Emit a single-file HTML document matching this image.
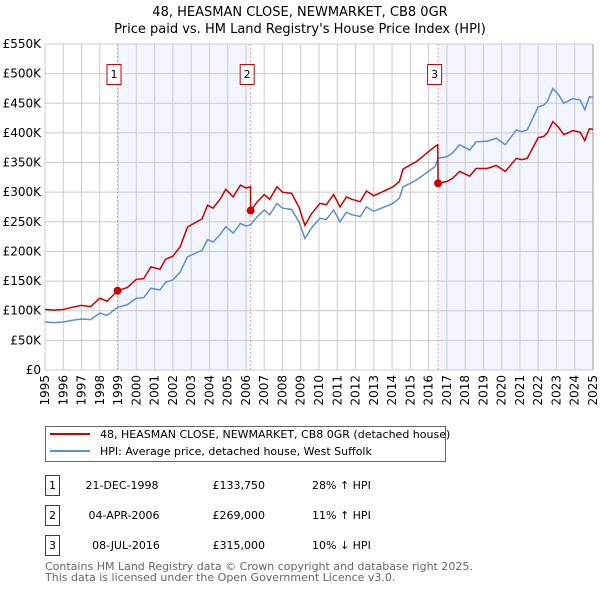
<!DOCTYPE html>
<html><head><meta charset="utf-8"><style>
body{margin:0;background:#fff;width:600px;height:590px;overflow:hidden}
svg text{font-family:"DejaVu Sans","Liberation Sans",sans-serif}
</style></head><body>
<svg id="chart" width="600" height="590" xmlns="http://www.w3.org/2000/svg">
<text x="300" y="16" text-anchor="middle" font-size="13">48, HEASMAN CLOSE, NEWMARKET, CB8 0GR</text>
<text x="300" y="33" text-anchor="middle" font-size="13">Price paid vs. HM Land Registry's House Price Index (HPI)</text>
<g id="plot"></g>
<g>
<rect x="45.5" y="426.5" width="400" height="35" fill="#fff" stroke="#666"/>
<line x1="50" y1="434" x2="90" y2="434" stroke="#cc0000" stroke-width="2"/>
<text x="100" y="438" font-size="11">48, HEASMAN CLOSE, NEWMARKET, CB8 0GR (detached house)</text>
<line x1="50" y1="451" x2="90" y2="451" stroke="#5b8fd4" stroke-width="2"/>
<text x="100" y="455" font-size="11">HPI: Average price, detached house, West Suffolk</text>
</g>
<g font-size="11">
<rect x="45.5" y="475.5" width="14" height="20" fill="#fff" stroke="#cc0000"/><text x="52.5" y="489" text-anchor="middle">1</text>
<text x="122" y="489" text-anchor="middle">21-DEC-1998</text><text x="265" y="489" text-anchor="end">£133,750</text><text x="312" y="489">28% ↑ HPI</text>
<rect x="45.5" y="505.5" width="14" height="20" fill="#fff" stroke="#cc0000"/><text x="52.5" y="519" text-anchor="middle">2</text>
<text x="124" y="519" text-anchor="middle">04-APR-2006</text><text x="265" y="519" text-anchor="end">£269,000</text><text x="312" y="519">11% ↑ HPI</text>
<rect x="45.5" y="535.5" width="14" height="20" fill="#fff" stroke="#cc0000"/><text x="52.5" y="549" text-anchor="middle">3</text>
<text x="126" y="549" text-anchor="middle">08-JUL-2016</text><text x="265" y="549" text-anchor="end">£315,000</text><text x="312" y="549">10% ↓ HPI</text>
</g>
<text x="45" y="570" font-size="11" fill="#666">Contains HM Land Registry data © Crown copyright and database right 2025.</text>
<text x="45" y="581" font-size="11" fill="#666">This data is licensed under the Open Government Licence v3.0.</text>
</svg>
<script>
const hpiDates=[1995.0,1995.5,1996.0,1996.5,1997.0,1997.5,1998.0,1998.4,1998.97,1999.5,2000.0,2000.4,2000.8,2001.3,2001.6,2002.0,2002.4,2002.8,2003.3,2003.6,2003.9,2004.2,2004.6,2004.9,2005.3,2005.7,2006.0,2006.26,2006.6,2007.0,2007.3,2007.7,2008.0,2008.5,2008.9,2009.23,2009.6,2010.05,2010.4,2010.8,2011.15,2011.5,2011.8,2012.25,2012.6,2013.0,2013.5,2014.05,2014.4,2014.6,2015.0,2015.35,2015.9,2016.35,2016.52,2017.0,2017.3,2017.7,2018.25,2018.6,2019.2,2019.7,2020.2,2020.8,2021.1,2021.4,2022.0,2022.3,2022.5,2022.8,2023.1,2023.4,2023.9,2024.3,2024.55,2024.8,2025.0];
const hpiValues=[81,80,81,84,86,85,96,92,106,110,121,122,138,135,148,152,165,191,198,202,220,216,229,242,231,247,243,245,258,270,262,281,273,271,250,222,240,256,254,270,250,266,262,259,275,268,274,281,290,309,315,321,333,343,357,360,366,380,371,385,386,391,380,405,402,405,444,447,453,475,465,450,458,455,439,461,460];
const priceDates=[1995.0,1995.5,1996.0,1996.5,1997.0,1997.5,1998.0,1998.4,1998.97,1999.5,2000.0,2000.4,2000.8,2001.3,2001.6,2002.0,2002.4,2002.8,2003.3,2003.6,2003.9,2004.2,2004.6,2004.9,2005.3,2005.7,2006.0,2006.25,2006.26,2006.6,2007.0,2007.3,2007.7,2008.0,2008.5,2008.9,2009.23,2009.6,2010.05,2010.4,2010.8,2011.15,2011.5,2011.8,2012.25,2012.6,2013.0,2013.5,2014.05,2014.4,2014.6,2015.0,2015.35,2015.9,2016.35,2016.5,2016.52,2017.0,2017.3,2017.7,2018.25,2018.6,2019.2,2019.7,2020.2,2020.8,2021.1,2021.4,2022.0,2022.3,2022.5,2022.8,2023.1,2023.4,2023.9,2024.3,2024.55,2024.8,2025.0];
const priceValues=[102,101,102,106,109,107,121,116,133.75,139,153,154,174,170,187,192,208,241,250,255,278,273,289,305,292,312,307,309,269,283,296,288,309,300,298,275,244,264,281,279,296,275,292,288,284,302,294,301,309,318,339,346,352,366,377,380,315,318,323,335,327,340,340,345,335,357,355,357,392,394,400,419,410,397,404,401,387,407,406];
const saleDates=[1998.97,2006.26,2016.52];
const saleValues=[133.75,269,315];
const saleLabels=["1","2","3"];
const yTicks=[0,50,100,150,200,250,300,350,400,450,500,550];
const yTickLabels=["£0","£50K","£100K","£150K","£200K","£250K","£300K","£350K","£400K","£450K","£500K","£550K"];
const xYears=[1995,1996,1997,1998,1999,2000,2001,2002,2003,2004,2005,2006,2007,2008,2009,2010,2011,2012,2013,2014,2015,2016,2017,2018,2019,2020,2021,2022,2023,2024,2025];

const L=45,R=593,T=44,B=370,X0=1995,X1=2025,YMAX=550;
const x=v=>L+(v-X0)/(X1-X0)*(R-L);
const y=v=>B-v/YMAX*(B-T);
const NS="http://www.w3.org/2000/svg";
const g=document.getElementById('plot');
function mk(tag,attrs,parent){const e=document.createElementNS(NS,tag);for(const k in attrs)e.setAttribute(k,attrs[k]);(parent||g).appendChild(e);return e;}

let r=mk('rect',{x:x(saleDates[0]),y:T,width:x(saleDates[1])-x(saleDates[0]),height:B-T,fill:'#f2f5fd'});


r=mk('rect',{x:x(saleDates[2]),y:T,width:R-x(saleDates[2]),height:B-T,fill:'#f2f5fd'});



yTicks.forEach((t,i)=>{
  const ln=mk('line',{x1:L,x2:R,y1:y(t),y2:y(t),stroke:'#ccc','stroke-width':1});
  
  
  const tx=mk('text',{x:L-4,y:y(t)+4,'text-anchor':'end','font-size':12});
  
  
  tx.textContent=yTickLabels[i];
});
xYears.forEach(yr=>{
  const ln=mk('line',{x1:x(yr),x2:x(yr),y1:T,y2:B,stroke:'#ccc','stroke-width':1});
  
  
  const gg=mk('g',{transform:'translate('+(x(yr)+4)+','+(B+5)+') rotate(-90)'});
  const tx=mk('text',{x:0,y:0,'text-anchor':'end','font-size':12},gg);
  
  
  tx.textContent=yr;
});
const ax=mk('line',{x1:R,x2:R,y1:T,y2:B,stroke:'#999','stroke-width':1});



saleDates.forEach((d,i)=>{
  const ln=mk('line',{x1:x(d),x2:x(d),y1:T,y2:B,stroke:'#e88','stroke-width':1,'stroke-dasharray':'1.5,2.5'});
  
  
});

const hp=mk('polyline',{points:hpiDates.map((d,i)=>x(d)+','+y(hpiValues[i])).join(' '),fill:'none',stroke:'#5b8fd4','stroke-width':1.5});


const pp=mk('polyline',{points:priceDates.map((d,i)=>x(d)+','+y(priceValues[i])).join(' '),fill:'none',stroke:'#cc0000','stroke-width':1.5});



saleDates.forEach((d,i)=>{
  const c=mk('circle',{cx:x(d),cy:y(saleValues[i]),r:4,fill:'#cc0000'});
  
  
  const bx=mk('rect',{x:x(d)-10.5,y:64.5,width:14,height:20,fill:'#fff',stroke:'#cc0000'});
  
  
  const tx=mk('text',{x:x(d)-3.5,y:78,'text-anchor':'middle','font-size':11});
  
  
  tx.textContent=saleLabels[i];
});
</script>
</body></html>
